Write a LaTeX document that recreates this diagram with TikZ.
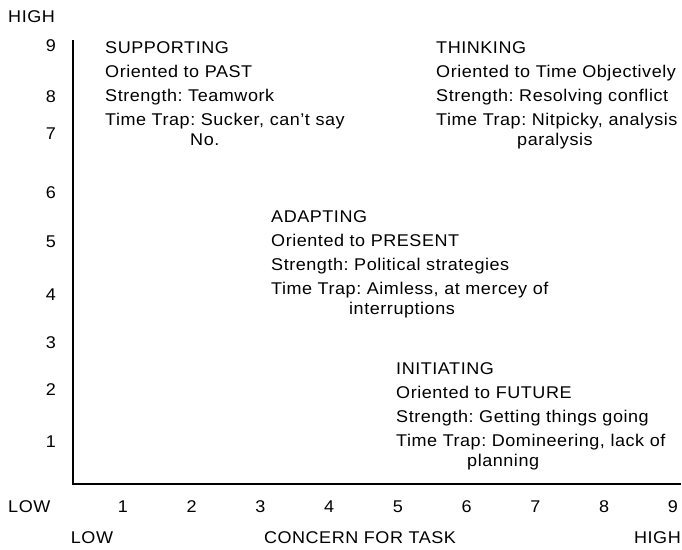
\documentclass[tikz,border=0pt]{standalone}
\usepackage{fontspec}
\setmainfont[FakeStretch=1.06,LetterSpace=3.2]{Liberation Sans}
\begin{document}
\frenchspacing
\begin{tikzpicture}[x=1pt,y=-1pt,
  axisline/.style={line width=2.6pt},
  lbl/.style={inner sep=0pt,font=\fontsize{17}{20}\selectfont},
  block/.style={inner sep=0pt,anchor=north west,align=left,
    font=\fontsize{17}{24}\selectfont}]
\useasboundingbox (0,0) rectangle (682,549);
% axes
\coordinate (top) at (73,40);
\coordinate (origin) at (73,484);
\coordinate (right) at (681,484);
\draw[axisline] (top) -- (origin) -- (right);
% vertical axis labels
\node[lbl,anchor=west] (yhigh) at (8,17) {HIGH};
\foreach \v/\y in {9/46,8/97,7/134,6/193,5/242,4/295,3/343,2/390,1/442}
  \node[lbl] (y\v) at (51,\y) {\v};
% horizontal axis labels
\node[lbl,anchor=west] (xlowa) at (8,507) {LOW};
\foreach \v in {1,...,9}
  \node[lbl] (x\v) at ({123+68.75*(\v-1)},507) {\v};
\node[lbl] (xlow) at (92,538) {LOW};
\node[lbl] (xtitle) at (360,538) {CONCERN FOR TASK};
\node[lbl,anchor=east] (xhigh) at (681,538) {HIGH};
% style blocks
\node[block] (supporting) at (105,41) {SUPPORTING\\Oriented to PAST\\Strength: Teamwork\\Time Trap: Sucker, can't say\\[-4pt]\hspace*{85pt}No.};
\node[block] (thinking) at (436,41) {THINKING\\Oriented to Time Objectively\\Strength: Resolving conflict\\Time Trap: Nitpicky, analysis\\[-4pt]\hspace*{81pt}paralysis};
\node[block] (adapting) at (271,210) {ADAPTING\\Oriented to PRESENT\\Strength: Political strategies\\Time Trap: Aimless, at mercey of\\[-4pt]\hspace*{78pt}interruptions};
\node[block] (initiating) at (396,362) {INITIATING\\Oriented to FUTURE\\Strength: Getting things going\\Time Trap: Domineering, lack of\\[-4pt]\hspace*{71pt}planning};
\end{tikzpicture}
\end{document}
